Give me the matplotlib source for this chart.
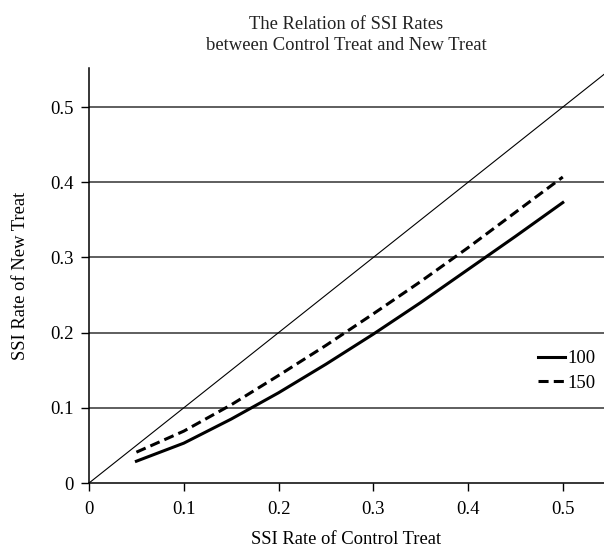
import matplotlib
matplotlib.use('Agg')
import matplotlib.pyplot as plt

plt.rcParams['font.family'] = ['Liberation Serif', 'DejaVu Serif']

# values
x_control = [0.05, 0.10, 0.15, 0.20, 0.25, 0.30, 0.35, 0.40, 0.45, 0.50]
new_100 = [0.029, 0.053, 0.085, 0.120, 0.158, 0.198, 0.240, 0.284, 0.328, 0.373]
new_150 = [0.041, 0.069, 0.104, 0.143, 0.183, 0.225, 0.268, 0.313, 0.360, 0.407]
diag = [0, 0.6]
ticks = [0, 0.1, 0.2, 0.3, 0.4, 0.5]
tick_labels = ['0', '0.1', '0.2', '0.3', '0.4', '0.5']

fig = plt.figure(figsize=(6.04, 5.51), dpi=100)
ax = fig.add_axes([0.1474, 0.1234, 0.8526, 0.7532])

for t in ticks[1:]:
    ax.axhline(t, color='#333333', lw=1.1, zorder=1)

ax.plot(diag, diag, color='black', lw=0.8, zorder=2)
ax.plot(x_control, new_100, '-', color='black', lw=2.2, label='100', zorder=3)
ax.plot(x_control, new_150, '--', color='black', lw=2.2, dashes=(3.3, 1.7), label='150', zorder=3)

ax.set_xlim(0, 0.5435)
ax.set_ylim(0, 0.552)
ax.set_xticks(ticks)
ax.set_xticklabels(tick_labels)
ax.set_yticks(ticks)
ax.set_yticklabels(tick_labels)
ax.tick_params(labelsize=13.5, length=6, width=1, color='black', pad=5)
ax.tick_params(axis='x', pad=7)

ax.spines['top'].set_visible(False)
ax.spines['right'].set_visible(False)
ax.spines['left'].set_linewidth(1.1)
ax.spines['bottom'].set_linewidth(1.1)

ax.set_title('The Relation of SSI Rates\nbetween Control Treat and New Treat',
             fontsize=13.4, pad=13, linespacing=1.3, color='#222222')
ax.set_xlabel('SSI Rate of Control Treat', fontsize=13.4, labelpad=9)
ax.set_ylabel('SSI Rate of New Treat', fontsize=13.4, labelpad=15)

ax.legend(loc='center left', bbox_to_anchor=(0.84, 0.27), frameon=False,
          fontsize=13.5, handlelength=1.4, handletextpad=0.15, labelspacing=0.4)

plt.savefig('out.png', dpi=100)
